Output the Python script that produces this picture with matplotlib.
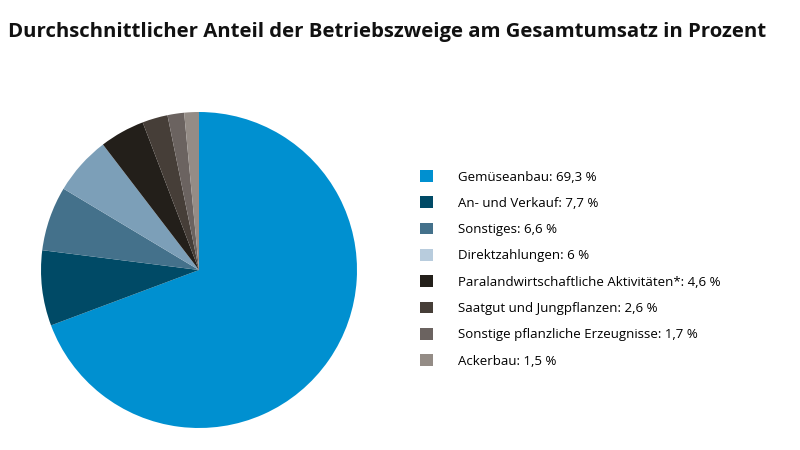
import matplotlib.pyplot as plt
from matplotlib.patches import Patch

labels = ["Gemüseanbau", "An- und Verkauf", "Sonstiges", "Direktzahlungen",
          "Paralandwirtschaftliche Aktivitäten*", "Saatgut und Jungpflanzen",
          "Sonstige pflanzliche Erzeugnisse", "Ackerbau"]
values = [69.3, 7.7, 6.6, 6.0, 4.6, 2.6, 1.7, 1.5]
value_text = ["69,3", "7,7", "6,6", "6", "4,6", "2,6", "1,7", "1,5"]

pie_colors = ["#0090d0", "#004a66", "#44718b", "#7c9fb8",
              "#231f1a", "#463e38", "#6b6360", "#948c86"]
legend_colors = ["#0090d0", "#004a66", "#44718b", "#b8ccdd",
                 "#231f1a", "#463e38", "#6b6360", "#948c86"]

plt.rcParams['font.family'] = ['Open Sans', 'DejaVu Sans']

fig = plt.figure(figsize=(8, 4.5), dpi=100)
ax = fig.add_axes([0.05125, 0.0489, 0.395, 0.7022])
ax.pie(values, colors=pie_colors, startangle=90, counterclock=False,
       wedgeprops=dict(linewidth=0))
ax.set_xlim(-1, 1)
ax.set_ylim(-1, 1)
ax.set_aspect('equal')
ax.axis('off')

fig.text(0.01, 0.928, "Durchschnittlicher Anteil der Betriebszweige am Gesamtumsatz in Prozent",
         fontsize=14.65, fontweight='bold', color='#111111', va='center', ha='left')

handles = [Patch(facecolor=c, edgecolor='none') for c in legend_colors]
texts = [f"{l}: {v} %" for l, v in zip(labels, value_text)]
fig.legend(handles, texts, loc='upper left', bbox_to_anchor=(0.525, 0.622),
           frameon=False, fontsize=9.5, handlelength=1.0, handleheight=1.0,
           handletextpad=1.9, labelspacing=0.975, borderaxespad=0, borderpad=0)

fig.savefig("out.png", dpi=100)
